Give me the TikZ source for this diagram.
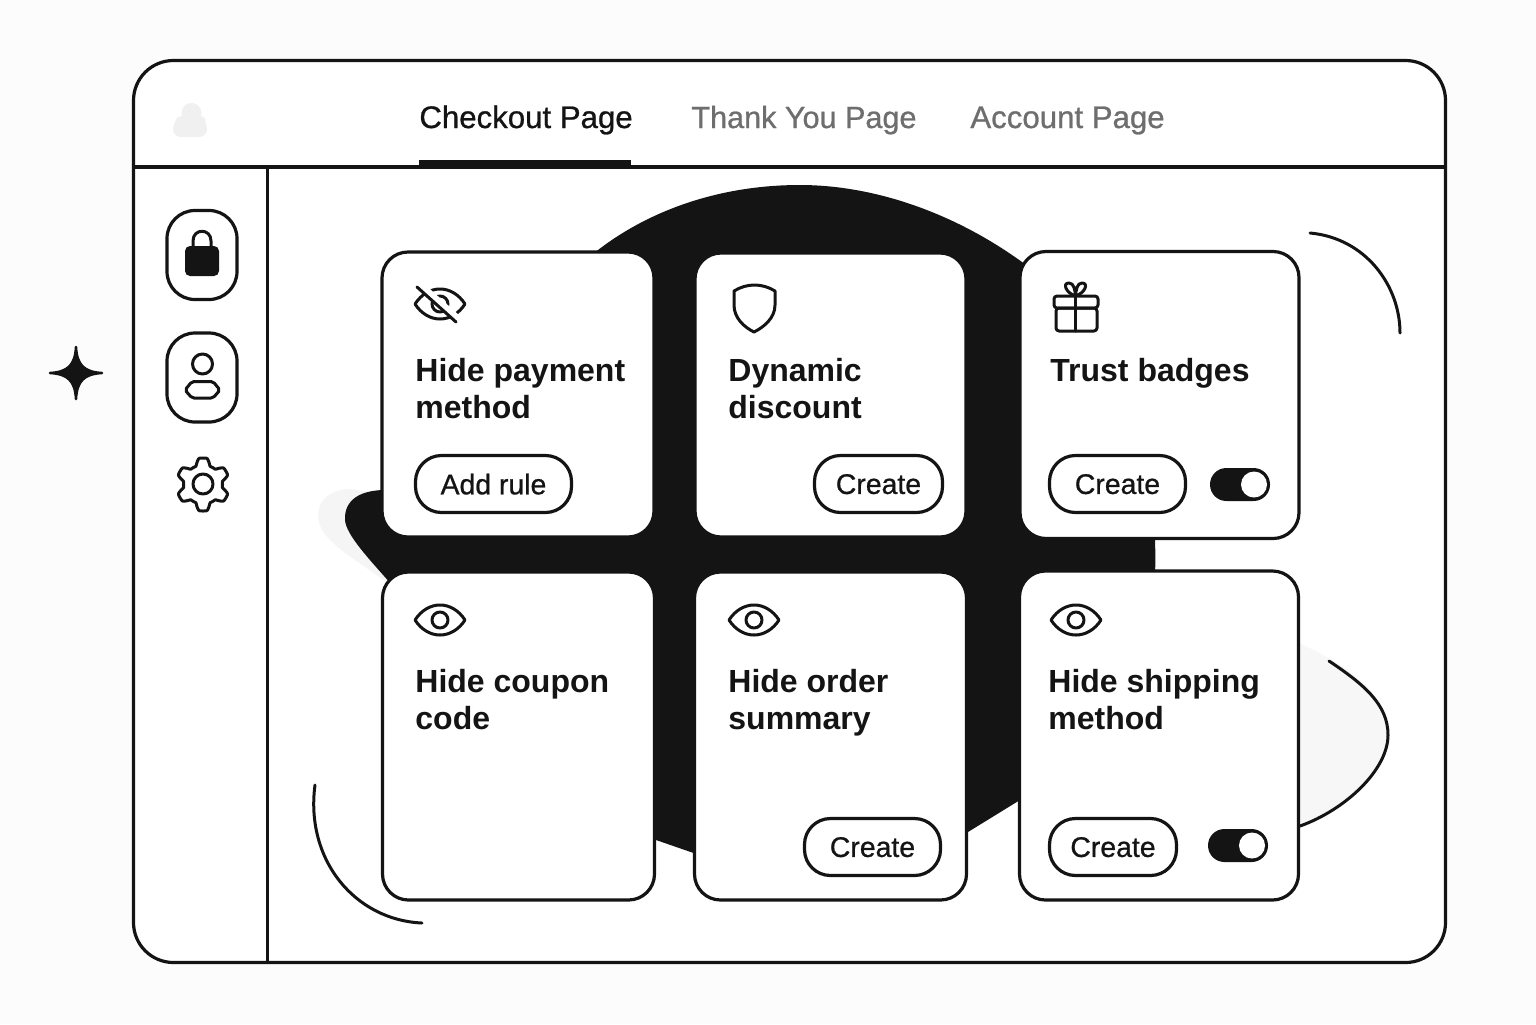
\documentclass[tikz,border=0pt]{standalone}
\usepackage{fontspec}
\setmainfont{Liberation Sans}
\newfontfamily\tabfont[FakeBold=0.8]{Liberation Sans}
\definecolor{myblack}{HTML}{141414}
\definecolor{mygrey}{HTML}{6E6E6E}
\definecolor{myghost}{HTML}{F0F0F0}
\definecolor{myblob}{HTML}{F7F7F7}
\definecolor{mypaper}{HTML}{FCFCFC}
\tikzset{
  line/.style={line width=1.6pt,myblack,line join=round},
  thin line/.style={line width=1.5pt,myblack,line join=round,line cap=round},
  node card/.style={line,draw,fill=white,rounded corners=13pt,inner sep=0},
  node side/.style={line,draw,fill=white,rounded corners=14pt,inner sep=0,minimum width=35pt,minimum height=44.5pt},
  node button/.style={line,draw,fill=white,rounded corners=13pt,inner sep=0,minimum height=28.5pt,text=myblack,text depth=0pt,font=\tabfont\fontsize{14.2}{16}\selectfont},
  node title/.style={anchor=north west,inner sep=0,align=left,text=myblack,font=\bfseries\fontsize{16}{18.2}\selectfont},
  node tab/.style={anchor=base west,inner sep=0,text=mygrey,font=\tabfont\fontsize{15.6}{18}\selectfont},
  eye icon/.pic={
    \draw[thin line] (-25,0) .. controls (-12,-20) and (12,-20) .. (25,0) .. controls (12,20) and (-12,20) .. (-25,0) -- cycle;
    \draw[thin line] (0,0) circle[radius=8];
  },
  toggle icon/.pic={
    \fill[myblack,rounded corners=8.2pt] (-30,-16.5) rectangle (30,16.5);
    \fill[white] (14,0) circle[radius=13];
  }
}
\begin{document}
\begin{tikzpicture}[x=.5pt,y=-.5pt]
    \useasboundingbox (0,0) rectangle (1536,1024);
    \fill[mypaper] (0,0) rectangle (1536,1024);

    % ------- window -------
    \draw[line,fill=white,rounded corners=20pt] (133.5,60.5) rectangle (1445.5,962.5);
    \draw[line] (133.5,167) -- (1445.5,167);
    \draw[line] (267.5,167) -- (267.5,962.5);
    \fill[myblack] (419,160) rectangle (631,167);

    % ------- tabs -------
    \node[node tab,text=myblack] (tab1) at (419,128) {Checkout Page};
    \node[node tab,font=\tabfont\fontsize{15.3}{18}\selectfont] (tab2) at (691,128) {Thank You Page};
    \node[node tab] (tab3) at (970,128) {Account Page};

    % placeholder logo
    \fill[myghost] (191.5,113) circle[radius=10];
    \fill[myghost,rounded corners=4pt] (173,137) -- (173,122) -- (181,114) -- (202,114) -- (207,122) -- (207,137) -- cycle;

    % ------- sparkle -------
    \filldraw[myblack,line width=1.25pt,line join=round] (76,347) .. controls (77,365) and (84,372) .. (102,373) .. controls (84,374) and (77,381) .. (76,399)
        .. controls (75,381) and (68,374) .. (50,373) .. controls (68,372) and (75,365) .. (76,347) -- cycle;

    % ------- sidebar -------
    \node[node side] (lock) at (202,255) {};
    \fill[myblack,rounded corners=2.5pt] (185,246) rectangle (219,276);
    \draw[thin line] (193,248) -- (193,241) .. controls (193,228) and (211,228) .. (211,241) -- (211,248);

    \node[node side] (user) at (202,377.5) {};
    \draw[thin line] (202.5,364) circle[radius=10];
    \draw[thin line,rounded corners=1pt] (192,381.5) -- (213,381.5) -- (220,390) -- (213,398) -- (192,398) -- (185,390) -- cycle;

    \draw[thin line,smooth] plot[domain=0:360,samples=145]
        ({203+(23+3.5*max(-1,min(1,1.7*cos(6*\x+180))))*cos(\x)},{484.5+(23+3.5*max(-1,min(1,1.7*cos(6*\x+180))))*sin(\x)}) -- cycle;
    \draw[thin line] (203,484) circle[radius=10];

    % ------- blobs -------
    \fill[myghost!70!white] (350,489) .. controls (322,490) and (312,510) .. (322,530) .. controls (335,550) and (365,565) .. (390,585) -- (420,500) -- cycle;
    \fill[myblob] (1296,642) .. controls (1350,665) and (1388,695) .. (1388,735) .. controls (1388,775) and (1345,810) .. (1296,827) -- cycle;
    \draw[thin line] (1329,661) .. controls (1365,685) and (1388,705) .. (1388,735) .. controls (1388,770) and (1345,810) .. (1300,826);

    \fill[myblack] (390,490) .. controls (360,489) and (344,500) .. (345,520) .. controls (346,535) and (370,560) .. (392,585)
        -- (656,840) -- (695,853.5) -- (968,832) -- (1020,800) -- (1150,640) -- (1155,575) .. controls (1160,450) and (1110,320) .. (1022,262)
        .. controls (950,210) and (870,185) .. (800,185) .. controls (720,185) and (650,210) .. (598,250) -- (400,400) -- cycle;

    % ------- cards -------
    \foreach \name/\cx/\cy/\w/\h in {
        card1/518/394.5/272/285,
        card2/830.5/395/271/284,
        card3/1159.5/395/279/287,
        card4/518.5/736/272/328,
        card5/830.5/736/272/328,
        card6/1159/735.5/279/329%
    } {
        \node[node card,minimum width=\w*.5pt,minimum height=\h*.5pt] (\name) at (\cx,\cy) {};
    }

    % ------- icons -------
    \pic at (440,304) {eye icon};
    \draw[white,line width=3pt] (421,285) -- (460,320);
    \draw[thin line] (417,287) -- (456,322);
    \draw[thin line] (734,291) .. controls (747,283) and (762,283) .. (775,291) -- (775,305) .. controls (775,318) and (764,327) .. (754,332)
        .. controls (744,327) and (734,318) .. (734,305) -- cycle;
    \draw[thin line,rounded corners=1.5pt] (1056,308) rectangle (1097,331);
    \draw[thin line,rounded corners=1.5pt] (1054,296) rectangle (1098,308);
    \draw[thin line] (1075.5,296) -- (1075.5,331);
    \draw[thin line] (1075.5,296) .. controls (1066,293) and (1062,283) .. (1069,283) .. controls (1074,283) and (1075,290) .. (1075.5,296)
        .. controls (1076,290) and (1077,283) .. (1082,283) .. controls (1089,283) and (1085,293) .. (1075.5,296) -- cycle;
    \pic at (440,620) {eye icon};
    \pic at (754,620) {eye icon};
    \pic at (1076,620) {eye icon};

    % ------- titles -------
    \foreach \name/\tx/\ty/\txt in {
        title1/415/358/{Hide payment\\method},
        title2/728/358/{Dynamic\\discount},
        title3/1050/358/{Trust badges},
        title4/415/669/{Hide coupon\\code},
        title5/728/669/{Hide order\\summary},
        title6/1048/669/{Hide shipping\\method}%
    } {
        \node[node title] (\name) at (\tx,\ty) {\txt};
    }

    % ------- buttons -------
    \foreach \name/\cx/\cy/\w/\txt in {
        btn1/493.5/484/156/Add rule,
        btn2/878.5/484/128/Create,
        btn3/1117.5/484/136/Create,
        btn5/872.5/847/136/Create,
        btn6/1113/847/127/Create%
    } {
        \node[node button,minimum width=\w*.5pt] (\name) at (\cx,\cy) {\txt};
    }
    \pic at (1240,484.5) {toggle icon};
    \pic at (1238,845.5) {toggle icon};

    % ------- arcs -------
    \draw[thin line] (1310,233) .. controls (1365,238) and (1400,285) .. (1400,333);
    \draw[thin line] (315,785) .. controls (305,860) and (355,920) .. (422,923);
\end{tikzpicture}
\end{document}
